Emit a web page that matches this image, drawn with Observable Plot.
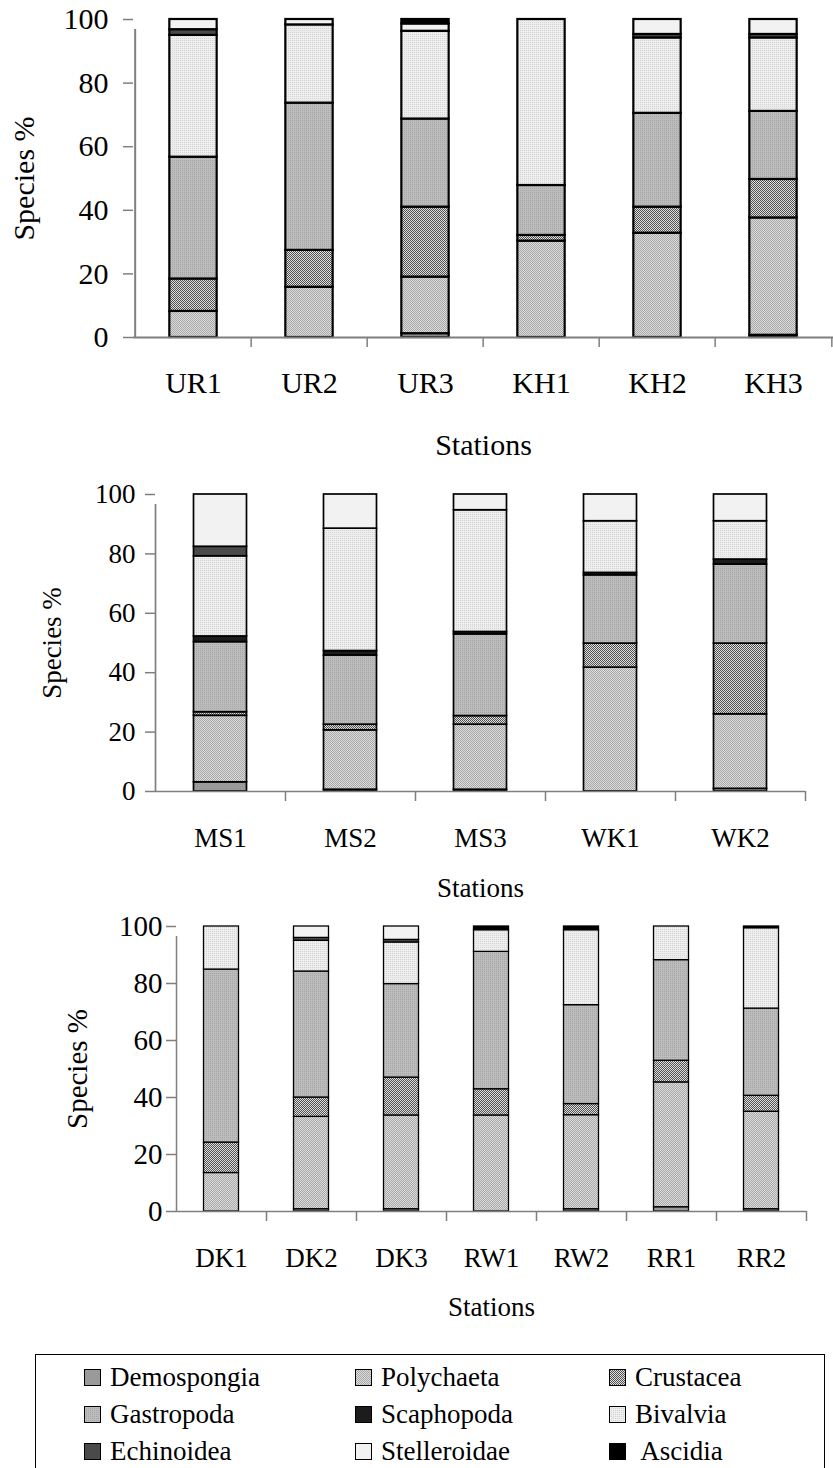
<!DOCTYPE html>
<html><head><meta charset="utf-8">
<script src="https://cdn.jsdelivr.net/npm/d3@7"></script>
<script src="https://cdn.jsdelivr.net/npm/@observablehq/plot@0.6"></script>
<style>
html,body{margin:0;padding:0;background:#fff;}
body{width:833px;height:1468px;overflow:hidden;position:relative;font-family:"Liberation Serif","Times New Roman",serif;}
#charts svg{display:block;}
#legend{position:absolute;left:35px;top:1354px;width:790px;height:160px;border:1px solid #000;box-sizing:border-box;
  display:grid;grid-template-columns:271px 254px auto;grid-auto-rows:37px;padding-left:48px;padding-top:4px;font-size:27px;color:#000;}
#legend .item{display:flex;align-items:center;white-space:pre;}
#legend svg{margin-right:9px;flex:none;}
</style></head><body>
<svg width="0" height="0" style="position:absolute">
  <defs>
    <pattern id="pPoly" patternUnits="userSpaceOnUse" width="2" height="2">
      <rect width="2" height="2" fill="#dcdcdc"/><rect width="1" height="1" fill="#a8a8a8"/><rect x="1" y="1" width="1" height="1" fill="#a8a8a8"/>
    </pattern>
    <pattern id="pCrus" patternUnits="userSpaceOnUse" width="2" height="2">
      <rect width="2" height="2" fill="#e0e0e0"/><rect width="1" height="1" fill="#505050"/><rect x="1" y="1" width="1" height="1" fill="#505050"/>
    </pattern>
    <pattern id="pGast" patternUnits="userSpaceOnUse" width="2" height="2">
      <rect width="2" height="2" fill="#bcbcbc"/><rect width="1" height="1" fill="#a6a6a6"/>
    </pattern>
    <pattern id="pBiv" patternUnits="userSpaceOnUse" width="2" height="2">
      <rect width="2" height="2" fill="#eeeeee"/><rect width="1" height="1" fill="#d4d4d4"/>
    </pattern>
  </defs>
</svg>
<div id="charts"></div>
<div id="legend"></div>
<script>
// Series (stacked bottom to top, legend order)
const seriesNames = ["Demospongia","Polychaeta","Crustacea","Gastropoda","Scaphopoda","Bivalvia","Echinoidea","Stelleroidae","Ascidia"];
const seriesFills = ["#9a9a9a","url(#pPoly)","url(#pCrus)","url(#pGast)","#1c1c1c","url(#pBiv)","#4a4a4a","#f2f2f2","#000000"];
const yTicks = [0,20,40,60,80,100];

// Panel 1
const stations1 = ["UR1","UR2","UR3","KH1","KH2","KH3"];
const values1 = [
  [0,   8.2, 10.2, 38.3, 0,   38.3, 1.8, 3.2, 0],
  [0,  15.8, 11.6, 46.3, 0,   24.6, 0,   1.7, 0],
  [1.2,17.8, 22.0, 27.7, 0,   27.6, 0,   2.3, 1.4],
  [0,  30.3,  1.8, 15.7, 0,   52.2, 0,   0,   0],
  [0,  32.8,  8.2, 29.5, 0,   23.7, 1.1, 4.7, 0],
  [0.7,36.9, 12.1, 21.4, 0,   23.1, 1.1, 4.7, 0]
];
// Panel 2
const stations2 = ["MS1","MS2","MS3","WK1","WK2"];
const values2 = [
  [3.1, 22.4,  1.2, 23.6, 1.9, 27.0, 3.2, 17.6, 0],
  [0.6, 20.0,  1.9, 23.3, 1.5, 41.2, 0,   11.5, 0],
  [0.6, 21.9,  2.9, 27.5, 0.8, 41.0, 0,    5.3, 0],
  [0,   41.7,  8.1, 23.0, 0.8, 17.4, 0,    9.0, 0],
  [0.9, 25.1, 23.8, 26.6, 1.7, 12.9, 0,    9.0, 0]
];
// Panel 3
const stations3 = ["DK1","DK2","DK3","RW1","RW2","RR1","RR2"];
const values3 = [
  [0,   13.5, 10.7, 60.7, 0, 15.1, 0,   0,   0],
  [0.8, 32.4,  6.8, 44.2, 0, 10.8, 1.0, 4.0, 0],
  [0.8, 32.9, 13.3, 32.8, 0, 14.6, 0.9, 4.7, 0],
  [0,   33.7,  9.2, 48.2, 0,  7.6, 0,   0,   1.3],
  [0.8, 33.0,  3.9, 34.7, 0, 26.3, 0,   0,   1.3],
  [1.5, 43.8,  7.6, 35.3, 0, 11.8, 0,   0,   0],
  [0.8, 34.2,  5.6, 30.6, 0, 28.2, 0,   0,   0.6]
];

const W = 833;
const GRAY = "#7f7f7f";

function panel(stations, rows, o) {
  const data = [];
  stations.forEach((s, i) => rows[i].forEach((v, j) => {
    if (v > 0) data.push({station: s, series: seriesNames[j], value: v});
  }));
  const step = (W - o.marginLeft - o.marginRight) / stations.length;
  const inset = (step - o.barWidth) / 2;
  const last = stations[stations.length - 1];
  return Plot.plot({
    width: W, height: o.height,
    marginTop: o.marginTop, marginBottom: o.marginBottom,
    marginLeft: o.marginLeft, marginRight: o.marginRight,
    style: {fontFamily: '"Liberation Serif", "Times New Roman", serif', fontSize: o.fontSize + "px", color: "#000", background: "#fff", overflow: "visible"},
    x: {domain: stations, padding: 0},
    y: {domain: [0, 100]},
    color: {type: "ordinal", domain: seriesNames, range: seriesFills},
    marks: [
      Plot.barY(data, {x: "station", y: "value", fill: "series", stroke: "#000", strokeWidth: o.barStroke, insetLeft: inset, insetRight: inset}),
      Plot.ruleY([0], {stroke: GRAY, strokeWidth: o.axisStroke}),
      Plot.ruleX([stations[0]], {x: d => d, y1: 0, y2: 100, dx: -step / 2, insetBottom: -10, stroke: GRAY, strokeWidth: o.axisStroke}),
      Plot.ruleX(stations.slice(1), {x: d => d, y1: 0, y2: 0, dx: -step / 2, insetBottom: -10, stroke: GRAY, strokeWidth: 1.5}),
      Plot.ruleX([last], {x: d => d, y1: 0, y2: 0, dx: step / 2, insetBottom: -10, stroke: GRAY, strokeWidth: 1.5}),
      Plot.axisX({tickSize: 0, tickPadding: o.xTickPadding, fontSize: o.fontSize, label: "Stations", labelAnchor: "center", labelOffset: o.xLabelOffset, labelArrow: "none"}),
      Plot.axisY({ticks: yTicks, tickSize: 10, tickPadding: o.yTickPadding, stroke: GRAY, strokeWidth: 1.5, fontSize: o.yFontSize, label: "Species %", labelAnchor: "center", labelOffset: o.yLabelOffset, labelArrow: "none"})
    ]
  });
}

const charts = document.getElementById("charts");
charts.append(panel(stations1, values1, {height: 470, marginTop: 19, marginBottom: 133, marginLeft: 133, marginRight: 0,
  barWidth: 48, barStroke: 2.2, axisStroke: 2, fontSize: 30, yFontSize: 30, xTickPadding: 34, xLabelOffset: 117, yTickPadding: 15, yLabelOffset: 121}));
charts.append(panel(stations2, values2, {height: 435, marginTop: 24, marginBottom: 114, marginLeft: 155, marginRight: 28,
  barWidth: 53, barStroke: 1.7, axisStroke: 1.7, fontSize: 27, yFontSize: 27, xTickPadding: 36, xLabelOffset: 105, yTickPadding: 10, yLabelOffset: 114}));
charts.append(panel(stations3, values3, {height: 440, marginTop: 21, marginBottom: 134, marginLeft: 176, marginRight: 27,
  barWidth: 35, barStroke: 1.3, axisStroke: 1.5, fontSize: 27, yFontSize: 29, xTickPadding: 36, xLabelOffset: 104, yTickPadding: 4, yLabelOffset: 110}));

// Legend
const legend = document.getElementById("legend");
const ns = "http://www.w3.org/2000/svg";
seriesNames.forEach((name, j) => {
  const item = document.createElement("div");
  item.className = "item";
  const sw = document.createElementNS(ns, "svg");
  sw.setAttribute("width", 17); sw.setAttribute("height", 17);
  const r = document.createElementNS(ns, "rect");
  r.setAttribute("x", 0.5); r.setAttribute("y", 0.5); r.setAttribute("width", 16); r.setAttribute("height", 16);
  r.setAttribute("fill", seriesFills[j]); r.setAttribute("stroke", "#000"); r.setAttribute("stroke-width", 1);
  sw.append(r);
  const t = document.createElement("span");
  t.textContent = name === "Ascidia" ? " " + name : name;
  item.append(sw, t);
  legend.append(item);
});
</script>
</body></html>
